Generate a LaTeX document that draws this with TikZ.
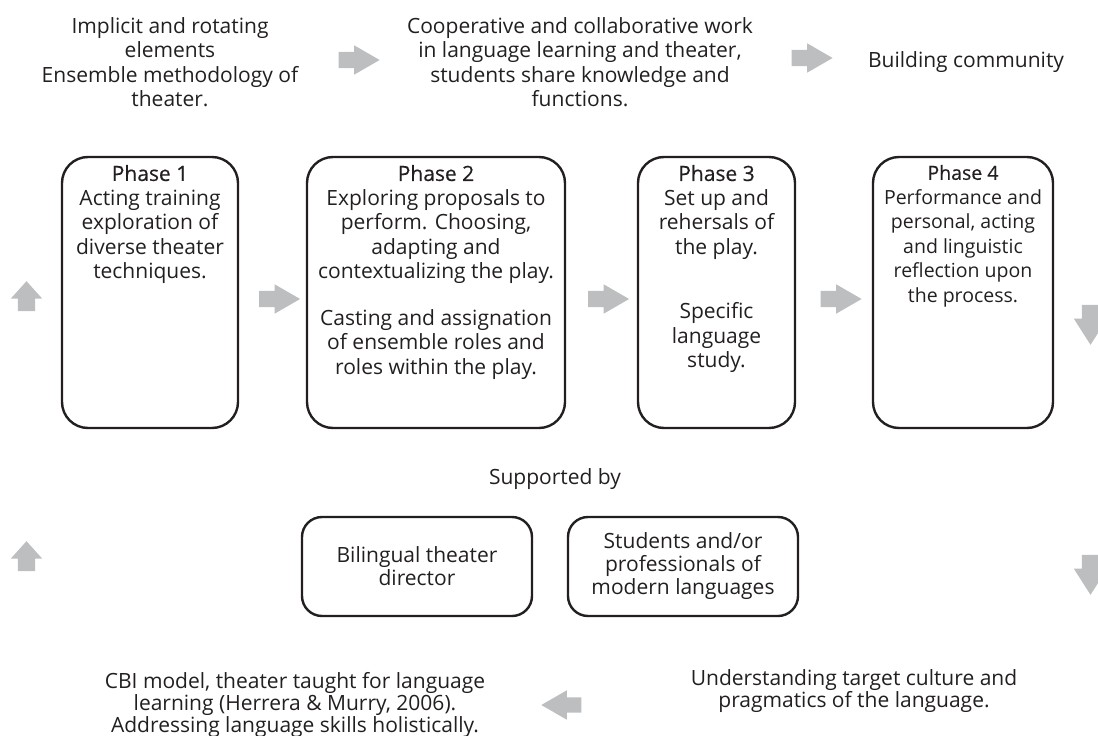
\documentclass[tikz,border=0pt]{standalone}
\usepackage{fontspec}
\setmainfont{Open Sans}
\newfontfamily\phasefont[FakeBold=0.4]{Open Sans}
\usetikzlibrary{shapes.arrows,calc}
\definecolor{ink}{HTML}{231F20}
\definecolor{arrowgray}{HTML}{BCBEC0}
\newcommand{\phasetitle}[1]{{\phasefont Phase #1}}
\tikzset{
	phasebox/.style = {draw = ink, line width = 2.4pt, rounded corners = 26pt, inner sep = 0pt},
	helpbox/.style = {draw = ink, line width = 2.4pt, rounded corners = 20pt, inner sep = 0pt, minimum width = 230pt, minimum height = 99pt},
	txt/.style = {align = center, inner sep = 0pt, text = ink, font = \fontsize{21}{24.5}\selectfont},
	flowarrow/.style = {single arrow, fill = arrowgray, draw = none, inner xsep = 0pt, inner ysep = 8pt,
		minimum height = 41pt, single arrow head extend = 6.5pt, single arrow tip angle = 60},
	uparrow/.style = {single arrow, fill = arrowgray, draw = none, inner xsep = 0pt, inner ysep = 8.5pt, rotate = 90,
		minimum height = 30pt, single arrow head extend = 7pt, single arrow tip angle = 84},
	downarrow/.style = {single arrow, fill = arrowgray, draw = none, inner xsep = 0pt, inner ysep = 8.5pt, rotate = -90,
		minimum height = 40pt, single arrow head extend = 8pt, single arrow tip angle = 65}
}
\begin{document}
\begin{tikzpicture}[x = 1pt, y = -1pt]
	\useasboundingbox (0,0) rectangle (1098,736);
	% top row
	\node[txt, anchor = north] (ens) at (170,17) {Implicit and rotating\\elements\\Ensemble methodology of\\theater.};
	\node[txt, anchor = north] (coop) at (580,17) {Cooperative and collaborative work\\in language learning and theater,\\students share knowledge and\\functions.};
	\node[txt, anchor = base] (comm) at (966,67) {Building community};
	\node[flowarrow] (ta1) at (352,60) {};
	\node[flowarrow] (ta2) at (805,58) {};
	% the four phases
	\node[phasebox, minimum width = 176pt, minimum height = 271pt] (ph1) at (150,292.5) {};
	\node[phasebox, minimum width = 258pt, minimum height = 271pt] (ph2) at (436,292.5) {};
	\node[phasebox, minimum width = 157pt, minimum height = 271pt] (ph3) at (716.5,292.5) {};
	\node[phasebox, minimum width = 180pt, minimum height = 271pt] (ph4) at (963,292.5) {};
	\node[txt, anchor = north] (t1) at ($(ph1.north)+(0,9)$) {\phasetitle{1}\\Acting training\\exploration of\\diverse theater\\techniques.};
	\node[txt, anchor = north] (t2) at ($(ph2.north)+(0,9)$) {\phasetitle{2}\\Exploring proposals to\\perform. Choosing,\\adapting and\\contextualizing the play.\\[22pt]Casting and assignation\\of ensemble roles and\\roles within the play.};
	\node[txt, anchor = north] (t3) at ($(ph3.north)+(0,9)$) {\phasetitle{3}\\Set up and\\rehersals of\\the play.\\[40pt]Specific\\language\\study.};
	\node[txt, anchor = north, font = \fontsize{19.5}{24.5}\selectfont] (t4) at ($(ph4.north)+(0,9)$) {\phasetitle{4}\\Performance and\\personal, acting\\and linguistic\\reflection upon\\the process.};
	\node[flowarrow] (a12) at ($(ph1.east)!0.5!(ph2.west)+(0,6.5)$) {};
	\node[flowarrow] (a23) at ($(ph2.east)!0.5!(ph3.west)+(0,6.5)$) {};
	\node[flowarrow] (a34) at ($(ph3.east)!0.5!(ph4.west)+(0,6.5)$) {};
	% support
	\node[txt, anchor = base] (sup) at (555,484) {Supported by};
	\node[helpbox] (dir) at (417,566.5) {};
	\node[helpbox] (stud) at (683,566.5) {};
	\node[txt, font = \fontsize{21}{23}\selectfont] at (dir) {Bilingual theater\\director};
	\node[txt, font = \fontsize{21}{23}\selectfont] at (stud) {Students and/or\\professionals of\\modern languages};
	% side arrows
	\node[uparrow] (l1) at (26.5,301) {};
	\node[uparrow] (l2) at (26.5,561) {};
	\node[downarrow] (r1) at (1090.5,318) {};
	\node[downarrow] (r2) at (1090.5,568) {};
	% bottom row
	\node[txt, anchor = base, font = \fontsize{21}{22}\selectfont] (cbi) at (295,732) {CBI model, theater taught for language\\learning (Herrera \& Murry, 2006).\\Addressing language skills holistically.};
	\node[txt, anchor = base, font = \fontsize{21}{22}\selectfont] (cult) at (854,707) {Understanding target culture and\\pragmatics of the language.};
	\node[flowarrow, rotate = 180, inner ysep = 7.5pt, minimum height = 40pt, single arrow head extend = 7pt] (ba) at (568,705) {};
\end{tikzpicture}
\end{document}
